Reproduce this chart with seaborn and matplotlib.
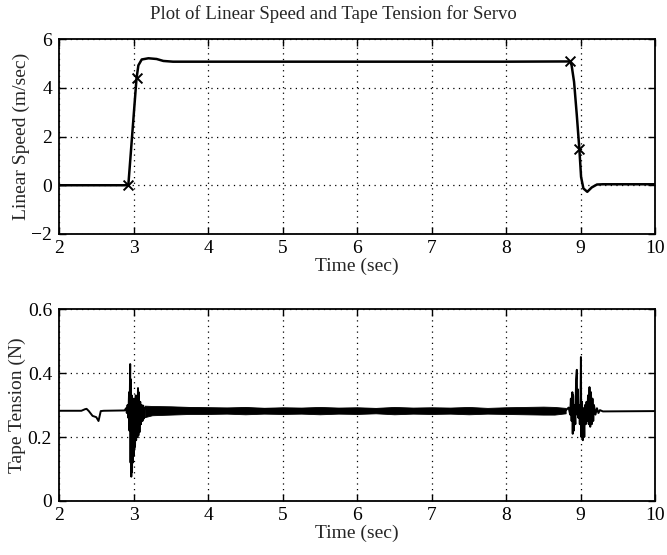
import matplotlib
matplotlib.use("Agg")
import matplotlib.pyplot as plt
import seaborn as sns
import numpy as np
import pandas as pd

# ---------------- data ----------------
speed_t = [2.0, 2.93, 3.04, 3.065, 3.11, 3.2, 3.31, 3.40, 3.53, 4.0, 5.0, 6.0, 7.0, 8.0,
           8.86, 8.88, 8.913, 8.949, 8.984, 9.007, 9.038, 9.09, 9.15, 9.22, 9.3, 9.6, 10.0]
speed_v = [0.0, 0.0, 4.38, 4.92, 5.16, 5.21, 5.18, 5.10, 5.07, 5.07, 5.07, 5.07, 5.07, 5.07,
           5.08, 4.92, 4.24, 2.90, 1.48, 0.34, -0.13, -0.27, -0.09, 0.03, 0.04, 0.04, 0.04]
marker_t = [2.93, 3.04, 8.86, 8.984]
marker_v = [0.0, 4.38, 5.08, 1.48]

tension_t = [2.0, 2.30, 2.35, 2.37, 2.40, 2.45, 2.50, 2.53, 2.56, 2.60, 2.88,
             2.90, 2.91, 2.92, 2.93, 2.94, 2.945, 2.955, 2.96, 2.965, 2.97, 2.975,
             2.98, 2.985, 2.99, 2.995, 3.0, 3.005, 3.01, 3.015, 3.02, 3.03, 3.035,
             3.045, 3.05, 3.06, 3.065, 3.07, 3.08, 3.09, 3.10, 3.11, 3.12, 3.13,
             3.14, 3.15,
             8.80, 8.84, 8.86, 8.87, 8.88, 8.89, 8.895, 8.90, 8.91, 8.92, 8.93,
             8.94, 8.95, 8.955, 8.96, 8.97, 8.98, 8.99, 9.0, 9.005, 9.01, 9.02,
             9.03, 9.04, 9.05, 9.06, 9.07, 9.08, 9.09, 9.10, 9.11, 9.12, 9.13,
             9.14, 9.15, 9.16, 9.17, 9.18, 9.20, 9.22, 9.24, 9.26, 9.30, 10.0]
tension_v = [0.282, 0.282, 0.287, 0.288, 0.281, 0.266, 0.262, 0.250, 0.281, 0.282, 0.283,
             0.290, 0.275, 0.300, 0.260, 0.340, 0.220, 0.428, 0.120, 0.380, 0.076, 0.330,
             0.090, 0.310, 0.120, 0.300, 0.140, 0.320, 0.160, 0.300, 0.170, 0.330, 0.190,
             0.300, 0.200, 0.353, 0.205, 0.340, 0.215, 0.310, 0.240, 0.300, 0.250, 0.298,
             0.258, 0.290,
             0.283, 0.292, 0.270, 0.320, 0.250, 0.340, 0.210, 0.330, 0.220, 0.300, 0.240,
             0.380, 0.410, 0.270, 0.350, 0.260, 0.300, 0.240, 0.330, 0.450, 0.200, 0.310,
             0.190, 0.290, 0.200, 0.300, 0.240, 0.310, 0.250, 0.330, 0.240, 0.356, 0.232,
             0.340, 0.240, 0.320, 0.250, 0.300, 0.270, 0.290, 0.275, 0.284, 0.280, 0.281]

band_t  = [3.15, 3.25, 3.5, 3.75, 4.0, 4.25, 4.5, 4.75, 5.0, 5.25, 5.5, 5.75, 6.0, 6.25,
           6.5, 6.75, 7.0, 7.25, 7.5, 7.75, 8.0, 8.25, 8.5, 8.65, 8.80]
band_hi = [0.298, 0.297, 0.296, 0.294, 0.293, 0.292, 0.294, 0.291, 0.293, 0.292, 0.294,
           0.292, 0.293, 0.291, 0.294, 0.292, 0.293, 0.292, 0.294, 0.291, 0.293, 0.294,
           0.295, 0.294, 0.291]
band_lo = [0.262, 0.268, 0.270, 0.272, 0.272, 0.273, 0.271, 0.273, 0.272, 0.273, 0.271,
           0.273, 0.272, 0.274, 0.271, 0.273, 0.272, 0.273, 0.271, 0.273, 0.272, 0.271,
           0.270, 0.270, 0.274]
band_mid = [0.29, 0.285, 0.284, 0.283, 0.283, 0.282, 0.282, 0.282, 0.282, 0.282, 0.283,
            0.282, 0.282, 0.282, 0.282, 0.282, 0.282, 0.282, 0.282, 0.282, 0.282, 0.282,
            0.283, 0.282, 0.283]

x_ticks = [2, 3, 4, 5, 6, 7, 8, 9, 10]
speed_ticks = [-2, 0, 2, 4, 6]
speed_ticklabels = ["\u22122", "0", "2", "4", "6"]
tension_ticks = [0, 0.2, 0.4, 0.6]
tension_ticklabels = ["0", "0.2", "0.4", "0.6"]

# ---------------- style ----------------
sns.set_theme(style="white")
plt.rcParams["font.family"] = ["Liberation Serif", "DejaVu Serif"]
plt.rcParams["xtick.direction"] = "in"
plt.rcParams["ytick.direction"] = "in"

fig = plt.figure(figsize=(6.67, 5.55), dpi=100)
ax1 = fig.add_axes([0.0885, 0.5784, 0.8936, 0.3513])
ax2 = fig.add_axes([0.0885, 0.0973, 0.8936, 0.3459])

FS = 14

def style_axes(ax, yticks, ylim, ylabels, ylabel):
    ax.set_xlim(2, 10)
    ax.set_ylim(*ylim)
    ax.set_xticks(x_ticks)
    ax.set_xticklabels([str(v) for v in x_ticks], fontsize=FS)
    ax.set_yticks(yticks)
    ax.set_yticklabels(ylabels, fontsize=FS)
    ax.tick_params(axis="both", which="both", direction="in", length=5, width=1,
                   top=True, right=True, bottom=True, left=True, colors="black")
    ax.tick_params(axis="x", pad=4)
    ax.tick_params(axis="y", pad=5)
    ax.grid(True, linestyle=(0, (1, 3.5)), color="black", linewidth=0.9)
    for s in ax.spines.values():
        s.set_color("black")
        s.set_linewidth(1.3)
        s.set_visible(True)
    ax.set_xlabel("Time (sec)", fontsize=FS, labelpad=1)
    ax.set_ylabel(ylabel, fontsize=FS, labelpad=1)
    ax.set_facecolor("white")

# top plot
sns.lineplot(x=speed_t, y=speed_v, ax=ax1, color="black", linewidth=1.8,
             estimator=None, sort=False)
sns.scatterplot(x=marker_t, y=marker_v, ax=ax1, marker="x", color="black",
                s=50, linewidth=1.4, zorder=5)
style_axes(ax1, speed_ticks, (-2, 6), speed_ticklabels, "Linear Speed (m/sec)")

# bottom plot
ax2.fill_between(band_t, band_lo, band_hi, color="black", linewidth=0.6)
sns.lineplot(x=band_t, y=band_mid, ax=ax2, color="black", linewidth=1.2,
             estimator=None, sort=False)
sns.lineplot(x=tension_t, y=tension_v, ax=ax2, color="black", linewidth=1.4,
             estimator=None, sort=False)
style_axes(ax2, tension_ticks, (0, 0.6), tension_ticklabels, "Tape Tension (N)")

fig.text(0.5, 1 - 14 / 555, "Plot of Linear Speed and Tape Tension for Servo",
         ha="center", va="center", fontsize=13.5)

fig.savefig("out.png", dpi=100, facecolor="white")
